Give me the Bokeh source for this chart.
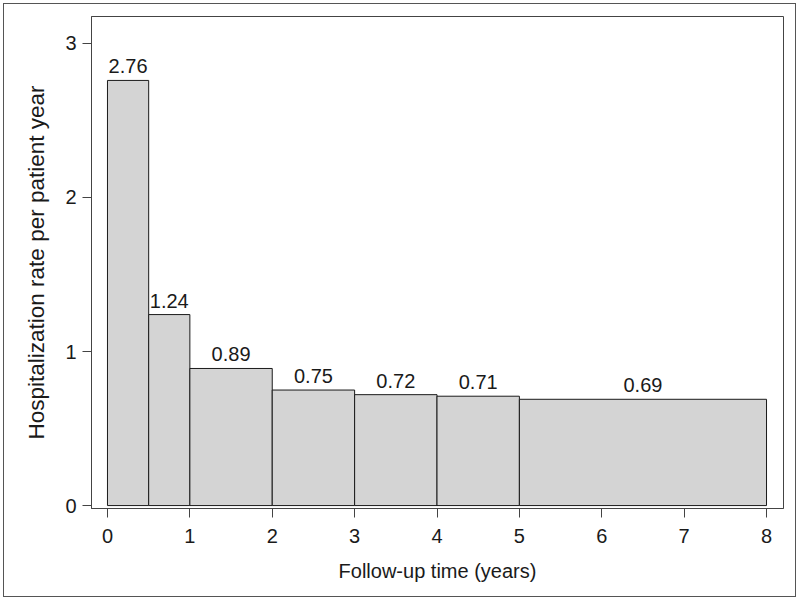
from bokeh.plotting import figure
from bokeh.models import ColumnDataSource, Range1d, FixedTicker, InlineStyleSheet
from bokeh.embed import file_html
from bokeh.resources import INLINE
from bokeh.core.properties import value

# Data
interval_start = [0, 0.5, 1, 2, 3, 4, 5]
interval_end = [0.5, 1, 2, 3, 4, 5, 8]
rates = [2.76, 1.24, 0.89, 0.75, 0.72, 0.71, 0.69]
rate_labels = ["2.76", "1.24", "0.89", "0.75", "0.72", "0.71", "0.69"]
x_ticks = [0, 1, 2, 3, 4, 5, 6, 7, 8]
y_ticks = [0, 1, 2, 3]

mid = [(a + b) / 2 for a, b in zip(interval_start, interval_end)]
src = ColumnDataSource(dict(left=interval_start, right=interval_end, top=rates,
                            mid=mid, label=rate_labels))

FONT = "Liberation Sans"
TXT = "#1a1a1a"
LINE = "#444444"

W, H = 792, 593
p = figure(width=W, height=H, output_backend="svg", toolbar_location=None,
           x_range=Range1d(-0.194, 8.206), y_range=Range1d(-0.019, 3.175),
           min_border_left=91, min_border_right=9, min_border_top=16, min_border_bottom=85)

p.stylesheets = [InlineStyleSheet(css="""
:host::after {
  content: "";
  position: absolute;
  left: 3px; top: 3px; right: -4px; bottom: -4px;
  border: 1px solid #555555;
  pointer-events: none;
  z-index: 100;
}
""")]

p.quad(left="left", right="right", bottom=0, top="top", source=src,
       fill_color="#d4d4d4", line_color="#1a1a1a", line_width=1)
p.text(x="mid", y="top", text="label", source=src, text_align="center",
       text_baseline="bottom", y_offset=-7, text_font=value(FONT),
       text_font_size="20px", text_color=TXT)

p.grid.visible = False
p.outline_line_color = LINE
p.outline_line_width = 1
p.background_fill_color = "white"
p.border_fill_color = "white"

for ax in (p.xaxis, p.yaxis):
    ax.axis_line_color = LINE
    ax.major_tick_line_color = LINE
    ax.minor_tick_line_color = None
    ax.major_tick_out = 9
    ax.major_tick_in = 0
    ax.major_label_text_font = FONT
    ax.major_label_text_font_size = "20px"
    ax.major_label_text_color = TXT
    ax.axis_label_text_font = FONT
    ax.axis_label_text_font_style = "normal"
    ax.axis_label_text_color = TXT

p.xaxis.ticker = FixedTicker(ticks=x_ticks)
p.yaxis.ticker = FixedTicker(ticks=y_ticks)
p.xaxis.axis_label = "Follow-up time (years)"
p.yaxis.axis_label = "Hospitalization rate per patient year"
p.xaxis.axis_label_text_font_size = "20px"
p.yaxis.axis_label_text_font_size = "22.5px"
p.yaxis.major_label_orientation = "horizontal"
p.xaxis.major_label_standoff = 11
p.yaxis.major_label_standoff = 6
p.xaxis.axis_label_standoff = 14
p.yaxis.axis_label_standoff = 13

open("out.html", "w").write(file_html(p, INLINE))
